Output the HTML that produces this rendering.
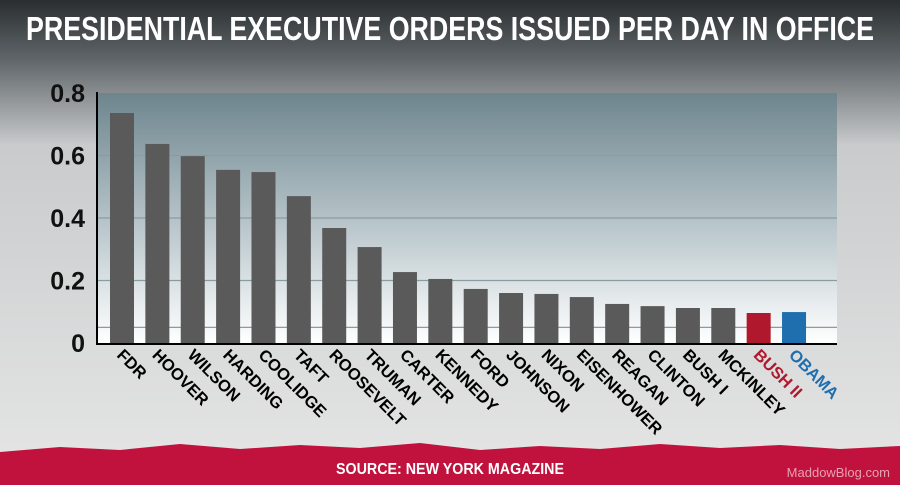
<!DOCTYPE html>
<html><head><meta charset="utf-8"><style>
body{margin:0;width:900px;height:485px;overflow:hidden;font-family:"Liberation Sans",sans-serif}
</style></head><body>
<svg width="900" height="485" xmlns="http://www.w3.org/2000/svg">
<defs>
<linearGradient id="bg" x1="0" y1="0" x2="0" y2="1"><stop offset="0" stop-color="#2a2e30"/><stop offset="0.12" stop-color="#5e6468"/><stop offset="0.3" stop-color="#c9cbcc"/><stop offset="1" stop-color="#e6e6e6"/></linearGradient>
<linearGradient id="pl" x1="0" y1="0" x2="0" y2="1"><stop offset="0" stop-color="#6e858e"/><stop offset="0.5" stop-color="#b4c2c7"/><stop offset="1" stop-color="#ffffff"/></linearGradient>
</defs>
<rect width="900" height="485" fill="url(#bg)"/>
<text x="450" y="40" text-anchor="middle" fill="#fff" font-size="33" font-weight="bold" textLength="848" lengthAdjust="spacingAndGlyphs">PRESIDENTIAL EXECUTIVE ORDERS ISSUED PER DAY IN OFFICE</text>
<rect x="97" y="93" width="740" height="250" fill="url(#pl)"/>
<g id="grid"></g>
<g id="bars"></g>
<line x1="97" y1="92" x2="97" y2="344" stroke="#000" stroke-width="2"/>
<line x1="96" y1="344" x2="837" y2="344" stroke="#000" stroke-width="2"/>
<g id="yt"></g>
<g id="xl"></g>
<path d="M0,452 L60,447 L120,450 L180,444 L240,449 L300,445 L360,448 L420,443 L480,450 L540,446 L600,449 L660,444 L720,448 L780,445 L840,449 L900,446 L900,485 L0,485Z" fill="#c0123c"/>
<text x="450" y="474" text-anchor="middle" fill="#fff" font-size="16" font-weight="bold" textLength="228" lengthAdjust="spacingAndGlyphs">SOURCE: NEW YORK MAGAZINE</text>
<text x="890" y="477" text-anchor="end" fill="#e8a0b0" font-size="13">MaddowBlog.com</text>
</svg>
<script>
const categories=["FDR","HOOVER","WILSON","HARDING","COOLIDGE","TAFT","ROOSEVELT","TRUMAN","CARTER","KENNEDY","FORD","JOHNSON","NIXON","EISENHOWER","REAGAN","CLINTON","BUSH I","MCKINLEY","BUSH II","OBAMA"];
const values=[0.736,0.637,0.598,0.554,0.547,0.47,0.368,0.307,0.227,0.205,0.173,0.16,0.157,0.147,0.125,0.118,0.112,0.112,0.096,0.099];
const colors=["#5a5a5a","#5a5a5a","#5a5a5a","#5a5a5a","#5a5a5a","#5a5a5a","#5a5a5a","#5a5a5a","#5a5a5a","#5a5a5a","#5a5a5a","#5a5a5a","#5a5a5a","#5a5a5a","#5a5a5a","#5a5a5a","#5a5a5a","#5a5a5a","#b0182e","#1f6fae"];
const labelColors=["#000","#000","#000","#000","#000","#000","#000","#000","#000","#000","#000","#000","#000","#000","#000","#000","#000","#000","#b0182e","#1f6fae"];
const ticks=[0,0.2,0.4,0.6,0.8];
const tickLabels=["0","0.2","0.4","0.6","0.8"];
const gridValues=[0.05,0.2,0.4,0.6];
const NS="http://www.w3.org/2000/svg";
const y=v=>343-v/0.8*250;
const step=35.37;
const x=i=>122+step*i;
const bw=24;
const grid=document.getElementById('grid'),bars=document.getElementById('bars'),yt=document.getElementById('yt'),xl=document.getElementById('xl');
gridValues.forEach(t=>{
 const l=document.createElementNS(NS,'line');
 l.setAttribute('x1',97);l.setAttribute('x2',837);l.setAttribute('y1',y(t));l.setAttribute('y2',y(t));
 l.setAttribute('stroke','#8a9ba1');l.setAttribute('stroke-width','1.2');
 
 
 grid.appendChild(l);
});
ticks.forEach((t,i)=>{
 const tx=document.createElementNS(NS,'text');
 tx.setAttribute('x',85);tx.setAttribute('y',y(t)+9);tx.setAttribute('text-anchor','end');
 tx.setAttribute('font-size','25');tx.setAttribute('font-weight','bold');tx.setAttribute('fill','#111');
 tx.textContent=tickLabels[i];
 
 
 yt.appendChild(tx);
});
categories.forEach((c,i)=>{
 const r=document.createElementNS(NS,'rect');
 r.setAttribute('x',x(i)-bw/2);r.setAttribute('y',y(values[i]));r.setAttribute('width',bw);r.setAttribute('height',343-y(values[i]));
 r.setAttribute('fill',colors[i]);
 
 
 bars.appendChild(r);
 const t=document.createElementNS(NS,'text');
 const lx=x(i)-6,ly=356;
 t.setAttribute('x',lx);t.setAttribute('y',ly);
 t.setAttribute('transform','rotate(45 '+lx+' '+ly+')');
 t.setAttribute('font-size','16.5');t.setAttribute('font-weight','bold');t.setAttribute('fill',labelColors[i]);
 t.textContent=c;
 
 
 xl.appendChild(t);
});
</script>
</body></html>
